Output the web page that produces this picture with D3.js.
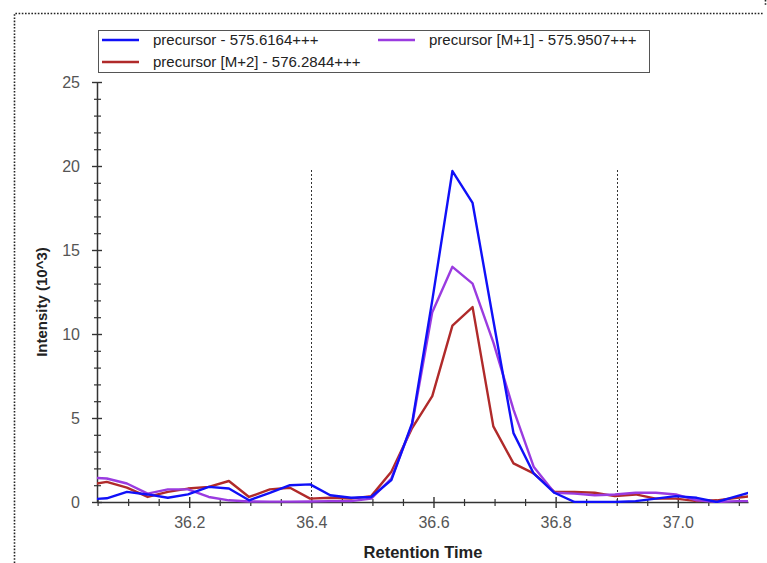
<!DOCTYPE html>
<html>
<head>
<meta charset="utf-8">
<script src="https://cdn.jsdelivr.net/npm/d3@7"></script>
<style>
  body { margin: 0; background: #fff; }
  svg { display: block; font-family: "Liberation Sans", Arial, sans-serif; }
</style>
</head>
<body>
<div id="chart"></div>
<script>
// retention times (min) of the scans
const times = [36.032, 36.065, 36.098, 36.132, 36.165, 36.198, 36.232, 36.265, 36.298, 36.332,
               36.365, 36.398, 36.431, 36.465, 36.498, 36.531, 36.565, 36.598, 36.631, 36.664,
               36.698, 36.731, 36.764, 36.798, 36.831, 36.864, 36.897, 36.931, 36.964, 36.997,
               37.031, 37.064, 37.097, 37.130];

// intensities, 10^3
const precursor   = [0.15, 0.22, 0.6, 0.45, 0.25, 0.45, 0.9, 0.8, 0.1, 0.55,
                     1.0, 1.05, 0.4, 0.25, 0.3, 1.3, 4.7, 12.0, 19.7, 17.8,
                     10.8, 4.1, 1.7, 0.55, 0.0, 0.0, 0.0, 0.05, 0.2, 0.35,
                     0.25, 0.0, 0.35, 0.7];
const precursorM1 = [1.45, 1.4, 1.1, 0.5, 0.75, 0.75, 0.3, 0.1, 0.03, 0.02,
                     0.02, 0.03, 0.05, 0.05, 0.2, 1.4, 4.6, 11.3, 14.0, 13.0,
                     9.5, 5.5, 2.1, 0.55, 0.5, 0.4, 0.45, 0.55, 0.55, 0.45,
                     0.1, 0.0, 0.05, 0.05];
const precursorM2 = [1.0, 1.2, 0.85, 0.3, 0.6, 0.8, 0.9, 1.25, 0.3, 0.75,
                     0.85, 0.2, 0.25, 0.2, 0.35, 1.8, 4.4, 6.3, 10.5, 11.6,
                     4.5, 2.3, 1.7, 0.6, 0.6, 0.55, 0.35, 0.45, 0.2, 0.2,
                     0.05, 0.1, 0.25, 0.4];

const seriesNames = ["precursor - 575.6164+++", "precursor [M+1] - 575.9507+++", "precursor [M+2] - 576.2844+++"];
const seriesColors = ["#1010f8", "#9a3be0", "#b02a2a"];

const xTicks = [36.2, 36.4, 36.6, 36.8, 37.0];
const yTicks = [0, 5, 10, 15, 20, 25];
const markers = [36.4, 36.9]; // integration bounds

const w = 767, h = 563;

const svg = d3.select("#chart").append("svg")
  .attr("width", w)
  .attr("height", h);

// dotted frame round the panel
svg.append("path")
  .attr("d", "M14.5,563 L14.5,13.5 L763,13.5 M765.5,0 L765.5,6")
  .attr("fill", "none")
  .attr("stroke", "#222")
  .attr("stroke-width", 1.6)
  .attr("stroke-dasharray", "1.6,1.6");

let x = d3.scaleLinear().domain([36.049, 37.115]).range([97, 748]);
let y = d3.scaleLinear().domain([0, 25]).range([502, 82]);

svg.append("clipPath").attr("id", "plot")
  .append("rect")
  .attr("x", 97).attr("y", 60)
  .attr("width", 651).attr("height", 443);

// vertical dashed markers
svg.selectAll("line.marker")
  .data(markers)
  .enter().append("line")
  .attr("class", "marker")
  .attr("x1", d => Math.round(x(d)) + 0.5)
  .attr("x2", d => Math.round(x(d)) + 0.5)
  .attr("y1", 170)
  .attr("y2", y(0))
  .attr("stroke", "#333")
  .attr("stroke-width", 1)
  .attr("stroke-dasharray", "2,2");

// x axis
let xAxis = svg.append("g")
  .attr("transform", "translate(0," + y(0) + ")")
  .call(d3.axisBottom(x).tickValues(xTicks).tickFormat(d3.format(".1f")).tickSize(6).tickPadding(9).tickSizeOuter(0));
xAxis.selectAll(".tick line").attr("y1", -5).attr("stroke", "#333").attr("stroke-width", 1.4);
xAxis.select(".domain").attr("stroke", "#333").attr("stroke-width", 1.5);
xAxis.selectAll("text").attr("fill", "#555").style("font-size", "16px").style("font-family", "Liberation Sans, Arial, sans-serif");

let xMinor = svg.append("g")
  .attr("transform", "translate(0," + y(0) + ")")
  .call(d3.axisBottom(x).tickValues(d3.range(36.05, 37.12, 0.05).filter(v => Math.abs(v * 5 - Math.round(v * 5)) > 0.01)).tickFormat("").tickSize(4).tickSizeOuter(0));
xMinor.select(".domain").remove();
xMinor.selectAll(".tick line").attr("y1", -3).attr("stroke", "#333").attr("stroke-width", 1.2);

// y axis
let yAxis = svg.append("g")
  .attr("transform", "translate(97,0)")
  .call(d3.axisLeft(y).tickValues(yTicks).tickSize(5).tickPadding(12).tickSizeOuter(0));
yAxis.selectAll(".tick line").attr("x1", 5).attr("stroke", "#333").attr("stroke-width", 1.4);
yAxis.select(".domain").attr("stroke", "#333").attr("stroke-width", 1.5);
yAxis.selectAll("text").attr("fill", "#555").style("font-size", "16px").style("font-family", "Liberation Sans, Arial, sans-serif");

let yMinor = svg.append("g")
  .attr("transform", "translate(97,0)")
  .call(d3.axisLeft(y).tickValues(d3.range(0, 26, 1).filter(v => v % 5 != 0)).tickFormat("").tickSize(3).tickSizeOuter(0));
yMinor.select(".domain").remove();
yMinor.selectAll(".tick line").attr("x1", 4).attr("stroke", "#333").attr("stroke-width", 1.2);

// axis titles
svg.append("text")
  .attr("x", 423).attr("y", 558)
  .attr("text-anchor", "middle")
  .style("font-size", "16.5px").style("font-weight", "bold")
  .attr("fill", "#222")
  .text("Retention Time");

svg.append("text")
  .attr("transform", "translate(47,302) rotate(-90)")
  .attr("text-anchor", "middle")
  .style("font-size", "15px").style("font-weight", "bold")
  .attr("fill", "#222")
  .text("Intensity (10^3)");

// chromatogram traces
let line = d3.line()
  .x((d, i) => x(times[i]))
  .y(d => y(d));

let traces = [precursorM2, precursorM1, precursor];
let traceColors = [seriesColors[2], seriesColors[1], seriesColors[0]];

svg.append("g").attr("clip-path", "url(#plot)")
  .selectAll("path")
  .data(traces)
  .enter().append("path")
  .attr("d", line)
  .attr("fill", "none")
  .attr("stroke", (d, i) => traceColors[i])
  .attr("stroke-width", 2.4)
  .attr("stroke-linejoin", "round");

// legend
let legend = svg.append("g");
legend.append("rect")
  .attr("x", 98.5).attr("y", 30.5)
  .attr("width", 551).attr("height", 42)
  .attr("fill", "#fff")
  .attr("stroke", "#555")
  .attr("stroke-width", 1);

let legendPos = [[102, 40], [378, 40], [102, 62]];
let items = legend.selectAll("g.item")
  .data(seriesNames)
  .enter().append("g")
  .attr("class", "item")
  .attr("transform", (d, i) => "translate(" + legendPos[i][0] + "," + legendPos[i][1] + ")");

items.append("line")
  .attr("x1", 0).attr("x2", 37)
  .attr("stroke", (d, i) => seriesColors[i])
  .attr("stroke-width", 2.5);

items.append("text")
  .attr("x", 51).attr("dy", "0.35em")
  .style("font-size", "15px")
  .attr("fill", "#222")
  .text(d => d);
</script>
</body>
</html>
